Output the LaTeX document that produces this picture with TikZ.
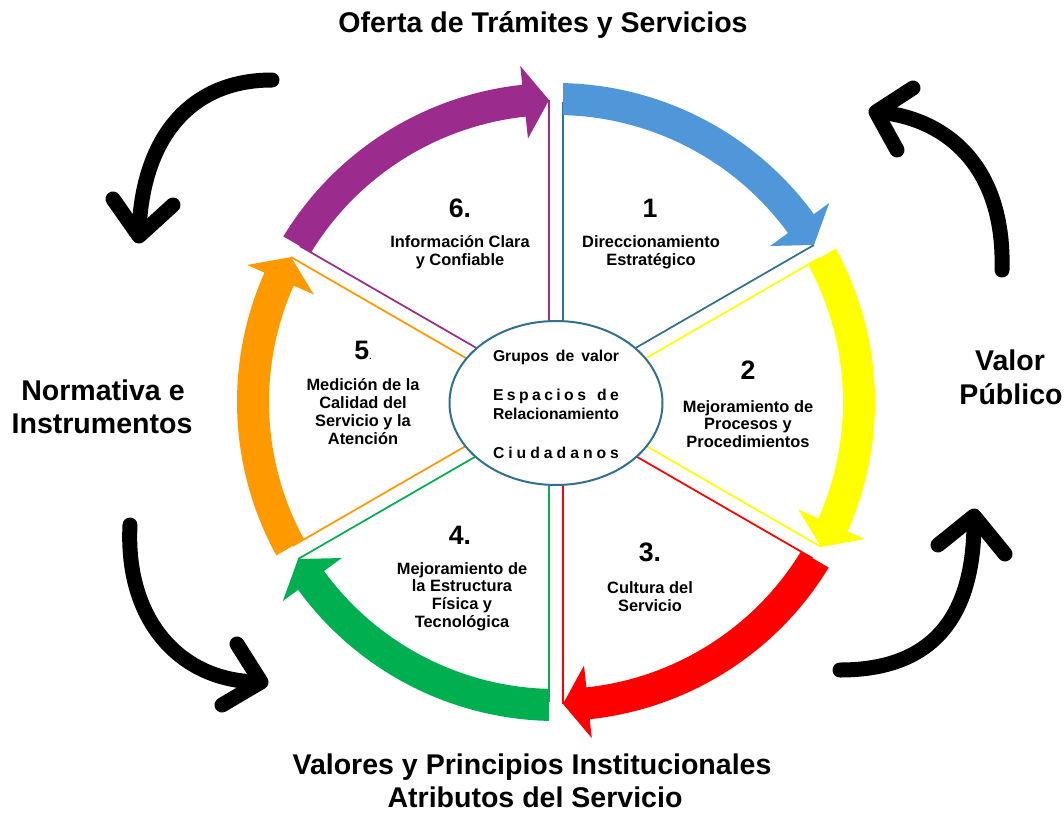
\documentclass[tikz,border=0pt]{standalone}
\usepackage{fontspec}
\setmainfont{Liberation Sans}
\usetikzlibrary{calc,shapes.geometric}
\definecolor{cblue}{HTML}{4F97D8}
\definecolor{cyellow}{HTML}{FFFF00}
\definecolor{cred}{HTML}{FF0000}
\definecolor{cgreen}{HTML}{00B050}
\definecolor{corange}{HTML}{FF9900}
\definecolor{cpurple}{HTML}{9C2B8E}
\definecolor{cteal}{HTML}{31708E}
\tikzset{
  lbl/.style={font=\bfseries\fontsize{21.4}{25.5}\selectfont, align=center, inner sep=0pt},
  num/.style={font=\bfseries\fontsize{20}{22}\selectfont, inner sep=0pt},
  sec/.style={font=\bfseries\fontsize{12.3}{13.3}\selectfont, align=center, inner sep=0pt},
  hubtxt/.style={font=\bfseries\fontsize{11.8}{13}\selectfont, inner sep=0pt},
  bigarrow/.style={line width=11.25pt, line cap=round, line join=round},
  spoke/.style={line width=1.3pt},
}
% #1 = counter-clockwise boundary angle of the sector, #2 = colour
\newcommand{\wheelarrow}[2]{%
  \fill[#2] (#1-1.4:287) -- (#1-1.26:319)
    arc[start angle=#1-1.26, end angle=#1-53.93, radius=319]
    -- (#1-53.93:338) -- (#1-58.67:302) -- (#1-53.93:265) -- (#1-53.93:287)
    arc[start angle=#1-53.93, end angle=#1-1.4, radius=287] -- cycle;}
\begin{document}
\begin{tikzpicture}[x=0.75pt,y=-0.75pt]
\useasboundingbox (0,0) rectangle (1064,814);

\begin{scope}[shift={(556,402)}, x=0.75pt, y=0.75pt]
  % spokes
  \foreach \a/\c in {90/cteal,30/cyellow,-30/cred,-90/cgreen,-150/corange,150/cpurple}{
    \draw[spoke,\c] ($(0,0)+(\a-90:7)$) -- ($(\a:300)+(\a-90:7)$);
    \draw[spoke,\c] ($(0,0)+(\a+30:7)$) -- ($(\a-60:302)+(\a+30:7)$);
  }
  % hub
  \node[ellipse, draw=cteal, line width=1.5pt, fill=white, inner sep=0pt,
        minimum width=159.75pt, minimum height=123pt] (hub) at (0,-1) {};
  % circular arrows
  \wheelarrow{90}{cblue}
  \wheelarrow{30}{cyellow}
  \wheelarrow{-30}{cred}
  \wheelarrow{-90}{cgreen}
  \wheelarrow{-150}{corange}
  \wheelarrow{150}{cpurple}
\end{scope}

% hub text
\node[hubtxt] (g1) at (556,357) {\hbox to 94.5pt{Grupos\hfill de\hfill valor}};
\node[hubtxt] (g2) at (556,396) {\hbox to 94.5pt{E\hfill s\hfill p\hfill a\hfill c\hfill i\hfill o\hfill s\hfill\ \hfill d\hfill e}};
\node[hubtxt] (g3) at (556,414) {Relacionamiento};
\node[hubtxt] (g4) at (556,453) {\hbox to 94.5pt{C\hfill i\hfill u\hfill d\hfill a\hfill d\hfill a\hfill n\hfill o\hfill s}};

% sector texts
\node[num] (n1) at (650,208) {1};
\node[sec] (t1) at (651,252.5) {Direccionamiento\\Estratégico};
\node[num] (n2) at (748,370) {2};
\node[sec] (t2) at (748,424) {Mejoramiento de\\Procesos y\\Procedimientos};
\node[num] (n3) at (650,552) {3.};
\node[sec] (t3) at (650,596.5) {Cultura del\\Servicio};
\node[num] (n4) at (460,535) {4.};
\node[sec] (t4) at (462,596.5) {Mejoramiento de\\la Estructura\\Física y\\Tecnológica};
\node[num] (n5) at (363,350) {5{\fontsize{6}{6}\selectfont.}};
\node[sec] (t5) at (363,411.5) {Medición de la\\Calidad del\\Servicio y la\\Atención};
\node[num] (n6) at (460,208) {6.};
\node[sec] (t6) at (460,252) {Información Clara\\y Confiable};

% outer labels
\node[lbl] (top) at (543,25) {Oferta de Trámites y Servicios};
\node[lbl] (bot1) at (532,767) {Valores y Principios Institucionales};
\node[lbl] (bot2) at (535,797) {Atributos del Servicio};
\node[lbl] (left1) at (103,390) {Normativa e};
\node[lbl] (left2) at (102,424) {Instrumentos};
\node[lbl] (right1) at (1010,360) {Valor};
\node[lbl] (right2) at (1011,394) {Público};

% black curved arrows
\draw[bigarrow] (272,80) .. controls (185,80) and (141,145) .. (139,234);
\draw[bigarrow] (113,199) -- (139,236) -- (173,205);
\draw[bigarrow] (1002,270) .. controls (1005,165) and (945,118) .. (878,112);
\draw[bigarrow] (913,88) -- (876,112) -- (897,150);
\draw[bigarrow] (130,525) .. controls (125,620) and (180,682) .. (260,682);
\draw[bigarrow] (237,644) -- (261,682) -- (222,705);
\draw[bigarrow] (840,670) .. controls (930,670) and (975,620) .. (974,518);
\draw[bigarrow] (938,545) -- (974,516) -- (1005,554);
\end{tikzpicture}
\end{document}
